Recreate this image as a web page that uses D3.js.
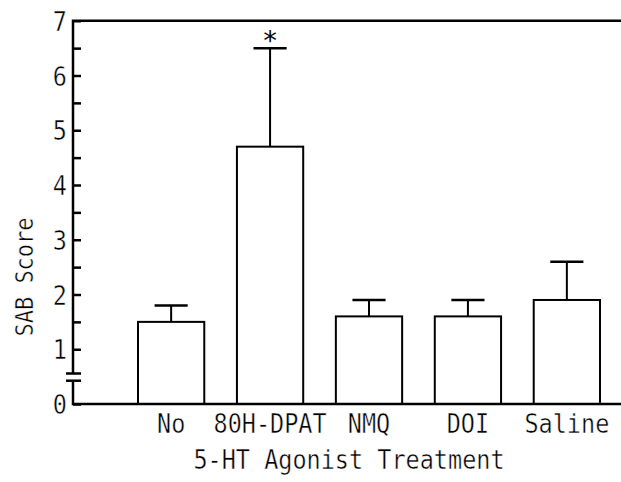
<!DOCTYPE html>
<html>
<head>
<meta charset="utf-8">
<script src="https://cdn.jsdelivr.net/npm/d3@7"></script>
<style>
  html, body { margin: 0; padding: 0; background: #fff; }
  svg text { font-family: "DejaVu Sans Mono", monospace; fill: #000; stroke: #fff; stroke-width: 0.4px; }
  svg text.mark { stroke: none; }
</style>
</head>
<body>
<svg id="chart"></svg>
<script>
// data
var categories = ['No', '80H-DPAT', 'NMQ', 'DOI', 'Saline'],
    means = [1.5, 4.7, 1.6, 1.6, 1.9],
    errors = [0.3, 1.8, 0.3, 0.3, 0.7],
    marks = ['', '*', '', '', ''],
    yTicks = [0, 1, 2, 3, 4, 5, 6, 7],
    yMinorTicks = [1.5, 2.5, 3.5, 4.5, 5.5, 6.5];

var width = 621,
    height = 482,
    left = 73,
    svg = d3.select('#chart')
        .attr('width', width)
        .attr('height', height),

    x = d3.scaleBand()
        .domain(categories)
        .range([138, 600])
        .paddingInner(0.33)
        .paddingOuter(0),

    y = d3.scaleLinear()
        .domain([0, 7])
        .range([404, 20.75]),

    rows = categories.map(function (c, i) {
        return { name: c, mean: means[i], err: errors[i], mark: marks[i] };
    }),

    stretch = 'scale(1,1.15)';

// bars
svg.append('g')
    .selectAll('rect')
    .data(rows)
    .join('rect')
    .attr('x', function (d) { return x(d.name); })
    .attr('y', function (d) { return y(d.mean); })
    .attr('width', x.bandwidth())
    .attr('height', function (d) { return y(0) - y(d.mean); })
    .attr('fill', '#fff')
    .attr('stroke', '#000')
    .attr('stroke-width', 2);

// upper error bars
var err = svg.append('g')
    .attr('stroke', '#000')
    .attr('stroke-width', 2);

err.selectAll('line.stem')
    .data(rows)
    .join('line')
    .attr('class', 'stem')
    .attr('x1', function (d) { return x(d.name) + x.bandwidth() / 2; })
    .attr('x2', function (d) { return x(d.name) + x.bandwidth() / 2; })
    .attr('y1', function (d) { return y(d.mean); })
    .attr('y2', function (d) { return y(d.mean + d.err); });

err.selectAll('line.cap')
    .data(rows)
    .join('line')
    .attr('class', 'cap')
    .attr('x1', function (d) { return x(d.name) + x.bandwidth() / 4; })
    .attr('x2', function (d) { return x(d.name) + x.bandwidth() * 3 / 4; })
    .attr('y1', function (d) { return y(d.mean + d.err); })
    .attr('y2', function (d) { return y(d.mean + d.err); })
    .attr('stroke-width', 2.5);

// significance marks
svg.append('g')
    .selectAll('text')
    .data(rows.filter(function (d) { return d.mark; }))
    .join('text')
    .attr('class', 'mark')
    .attr('transform', function (d) {
        return 'translate(' + (x(d.name) + x.bandwidth() / 2) + ',' + (y(d.mean + d.err) + 2) + ')';
    })
    .attr('text-anchor', 'middle')
    .style('font-size', '27px')
    .text(function (d) { return d.mark; });

// y axis: labelled ticks and minor ticks pointing inward
var yAxis = svg.append('g')
    .attr('transform', 'translate(' + left + ',0)')
    .call(d3.axisLeft(y).tickValues(yTicks).tickSize(-8).tickPadding(6).tickFormat(d3.format('d')));

yAxis.select('.domain').remove();
yAxis.selectAll('.tick line').attr('stroke', '#000').attr('stroke-width', 2.5);
yAxis.selectAll('.tick text')
    .style('font-size', '23.5px')
    .attr('dy', '0.36em')
    .attr('transform', stretch);

var yMinor = svg.append('g')
    .attr('transform', 'translate(' + left + ',0)')
    .call(d3.axisLeft(y).tickValues(yMinorTicks).tickSize(-8).tickFormat(''));

yMinor.select('.domain').remove();
yMinor.selectAll('.tick line').attr('stroke', '#000').attr('stroke-width', 2.5);

// axis frame with a break near the bottom of the y axis
var frame = svg.append('g')
    .attr('stroke', '#000')
    .attr('stroke-width', 2.5)
    .attr('fill', 'none');

frame.append('path')
    .attr('d', 'M' + width + ',' + y(7) + 'H' + left + 'V' + 373.5);
frame.append('path')
    .attr('d', 'M' + left + ',' + 380.7 + 'V' + y(0) + 'H' + width);
frame.append('line')
    .attr('x1', left - 7).attr('x2', left + 8)
    .attr('y1', 373.5).attr('y2', 373.5);
frame.append('line')
    .attr('x1', left - 7).attr('x2', left + 8)
    .attr('y1', 380.7).attr('y2', 380.7);

// category labels
svg.append('g')
    .selectAll('text')
    .data(categories)
    .join('text')
    .attr('transform', function (d) {
        return 'translate(' + (x(d) + x.bandwidth() / 2) + ',433) ' + stretch;
    })
    .attr('text-anchor', 'middle')
    .style('font-size', '23.5px')
    .text(function (d) { return d; });

// axis titles
svg.append('text')
    .attr('transform', 'translate(349,469) ' + stretch)
    .attr('text-anchor', 'middle')
    .style('font-size', '23.5px')
    .text('5-HT Agonist Treatment');

svg.append('text')
    .attr('transform', 'translate(33,277) rotate(-90) ' + stretch)
    .attr('text-anchor', 'middle')
    .style('font-size', '22px')
    .text('SAB Score');
</script>
</body>
</html>
